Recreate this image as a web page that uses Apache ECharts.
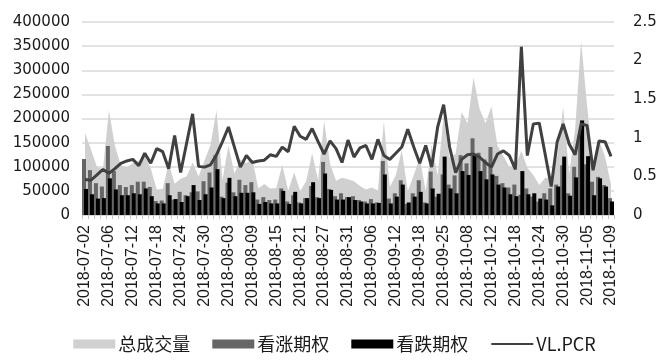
<!DOCTYPE html>
<html><head><meta charset="utf-8">
<script src="https://cdn.jsdelivr.net/npm/echarts@6/dist/echarts.min.js"></script>
<style>html,body{margin:0;padding:0;background:#fff}#c{width:669px;height:362px}</style>
</head><body><div id="c"></div>
<script>
const dates = ["2018-07-02","2018-07-03","2018-07-04","2018-07-05","2018-07-06","2018-07-09","2018-07-10","2018-07-11","2018-07-12","2018-07-13","2018-07-16","2018-07-17","2018-07-18","2018-07-19","2018-07-20","2018-07-23","2018-07-24","2018-07-25","2018-07-26","2018-07-27","2018-07-30","2018-07-31","2018-08-01","2018-08-02","2018-08-03","2018-08-06","2018-08-07","2018-08-08","2018-08-09","2018-08-10","2018-08-13","2018-08-14","2018-08-15","2018-08-16","2018-08-17","2018-08-20","2018-08-21","2018-08-22","2018-08-23","2018-08-24","2018-08-27","2018-08-28","2018-08-29","2018-08-30","2018-08-31","2018-09-03","2018-09-04","2018-09-05","2018-09-06","2018-09-07","2018-09-10","2018-09-11","2018-09-12","2018-09-13","2018-09-14","2018-09-17","2018-09-18","2018-09-19","2018-09-20","2018-09-21","2018-09-25","2018-09-26","2018-09-27","2018-09-28","2018-10-08","2018-10-09","2018-10-10","2018-10-11","2018-10-12","2018-10-15","2018-10-16","2018-10-17","2018-10-18","2018-10-19","2018-10-22","2018-10-23","2018-10-24","2018-10-25","2018-10-26","2018-10-29","2018-10-30","2018-10-31","2018-11-01","2018-11-02","2018-11-05","2018-11-06","2018-11-07","2018-11-08","2018-11-09"];

const totalVolume = [170000,136000,100000,94000,217000,144000,103000,99000,107000,112000,124000,97000,53000,54000,107000,65000,75000,80000,109000,80000,113000,145000,217000,73000,144000,86000,115000,108000,115000,55000,64000,55000,56000,104000,51000,88000,50000,70000,128000,72000,195000,106000,71000,77000,74000,70000,60000,53000,57000,51000,194000,58000,83000,134000,49000,83000,118000,50000,145000,82000,203000,118000,127000,213000,190000,285000,220000,190000,225000,144000,122000,100000,102000,133000,98000,83000,62000,77000,75000,122000,224000,85000,178000,360000,227000,110000,155000,121000,63000];

const callVolume = [116000,93000,66000,59000,143000,91000,62000,58000,62000,69000,69000,58000,29000,30000,66000,32000,48000,41000,47000,49000,70000,88000,124000,38000,67000,47000,73000,62000,68000,32000,37000,31000,32000,55000,28000,41000,26000,35000,60000,37000,110000,54000,39000,45000,37000,39000,31000,28000,33000,26000,112000,34000,45000,72000,23000,45000,72000,26000,90000,38000,84000,63000,82000,124000,107000,159000,129000,115000,141000,81000,66000,57000,63000,42000,55000,38000,28000,45000,55000,63000,103000,45000,100000,166000,105000,69000,79000,62000,35000];

const putVolume = [54000,43000,34000,35000,76000,53000,41000,41000,45000,43000,55000,39000,24000,24000,41000,33000,27000,39000,62000,31000,43000,57000,95000,35000,77000,39000,46000,46000,47000,23000,27000,24000,24000,50000,23000,48000,24000,35000,68000,35000,86000,52000,32000,32000,37000,31000,28000,24000,24000,25000,84000,24000,38000,63000,26000,38000,48000,24000,55000,44000,121000,55000,45000,91000,83000,126000,91000,74000,84000,63000,57000,43000,39000,91000,43000,45000,34000,32000,20000,59000,121000,40000,78000,196000,122000,41000,76000,59000,28000];

const pcr = [0.46,0.45,0.52,0.59,0.54,0.60,0.67,0.70,0.72,0.64,0.80,0.67,0.86,0.82,0.60,1.03,0.55,0.93,1.31,0.63,0.62,0.65,0.78,0.95,1.14,0.88,0.62,0.77,0.68,0.70,0.71,0.78,0.76,0.88,0.82,1.15,1.02,0.98,1.12,0.95,0.79,0.96,0.86,0.68,0.97,0.75,0.87,0.90,0.72,0.98,0.77,0.72,0.80,0.88,1.11,0.88,0.67,0.90,0.62,1.14,1.43,0.88,0.55,0.72,0.78,0.79,0.75,0.68,0.62,0.79,0.83,0.77,0.59,2.18,0.77,1.18,1.19,0.78,0.37,0.95,1.18,0.92,0.78,1.18,1.16,0.58,0.96,0.95,0.76];

const leftTicks = {min: 0, max: 400000, interval: 50000};
const rightTicks = {min: 0, max: 2.5, interval: 0.5};

const chart = echarts.init(document.getElementById('c'), null, {renderer: 'canvas'});
const axisFont = {fontFamily: 'DejaVu Sans', fontSize: 15, color: '#1a1a1a'};
chart.setOption({
  animation: false,
  backgroundColor: '#ffffff',
  grid: {left: 82, right: 55, top: 22, bottom: 147},
  legend: {
    bottom: 4, left: 'center', itemWidth: 42, itemHeight: 9, itemGap: 22,
    textStyle: {fontFamily: 'Noto Sans CJK SC', fontSize: 18, color: '#1a1a1a', padding: [0,0,0,-2]},
    data: [
      {name: '总成交量', icon: 'rect', itemStyle: {color: '#d0d0d0'}},
      {name: '看涨期权', icon: 'rect'},
      {name: '看跌期权', icon: 'rect'},
      {name: 'VL.PCR', itemStyle: {color: 'rgba(0,0,0,0)', borderColor: 'rgba(0,0,0,0)', borderWidth: 0, opacity: 0}}
    ]
  },
  xAxis: {
    type: 'category', data: dates, boundaryGap: true,
    axisLine: {lineStyle: {color: '#d9d9d9', width: 1}},
    axisTick: {show: true, interval: 0, length: 4, lineStyle: {color: '#c8c8c8'}},
    axisLabel: {interval: 3, rotate: 90, margin: 10, fontFamily: 'Liberation Sans', fontSize: 16, color: '#1a1a1a'}
  },
  yAxis: [
    {type: 'value', min: leftTicks.min, max: leftTicks.max, interval: leftTicks.interval,
     axisLine: {show: false}, axisTick: {show: false},
     axisLabel: Object.assign({margin: 12, formatter: v => String(v)}, axisFont),
     splitLine: {lineStyle: {color: '#d9d9d9', width: 1.5}}},
    {type: 'value', min: rightTicks.min, max: rightTicks.max, interval: rightTicks.interval,
     axisLine: {show: false}, axisTick: {show: false},
     axisLabel: Object.assign({margin: 19, formatter: v => String(v)}, axisFont),
     splitLine: {show: false}}
  ],
  series: [
    {name: '总成交量', type: 'line', data: totalVolume, yAxisIndex: 0, symbol: 'none',
     lineStyle: {width: 0, color: '#d0d0d0'}, itemStyle: {color: '#d0d0d0'},
     areaStyle: {color: '#d0d0d0', opacity: 1}, z: 1},
    {name: '看涨期权', type: 'bar', data: callVolume, yAxisIndex: 0, barWidth: 4, barGap: '-50%',
     itemStyle: {color: '#666666'}, z: 2},
    {name: '看跌期权', type: 'bar', data: putVolume, yAxisIndex: 0, barWidth: 4, barGap: '-50%',
     itemStyle: {color: '#000000'}, z: 3},
    {name: 'VL.PCR', type: 'line', data: pcr, yAxisIndex: 1, symbol: 'none',
     lineStyle: {width: 3, color: '#404040'}, itemStyle: {color: '#404040'}, z: 4}
  ]
});
</script></body></html>
